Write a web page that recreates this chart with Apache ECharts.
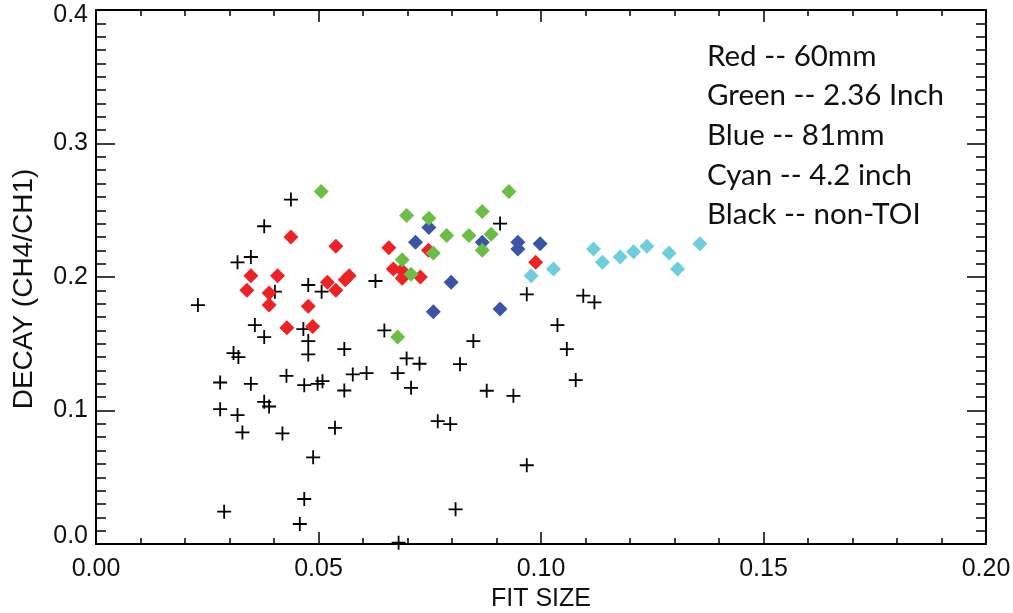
<!DOCTYPE html>
<html>
<head>
<meta charset="utf-8">
<script src="https://cdn.jsdelivr.net/npm/echarts@6/dist/echarts.min.js"></script>
<style>
  html, body { margin: 0; padding: 0; background: #fff; }
  #chart { width: 1013px; height: 613px; }
</style>
</head>
<body>
<div id="chart"></div>
<script>
// Fit size vs. decay ratio, one group per projectile type
const red60mm = [
  [0.0438, 0.230], [0.0348, 0.201], [0.0408, 0.201], [0.0339, 0.190],
  [0.0389, 0.188], [0.0389, 0.179], [0.0477, 0.178], [0.0429, 0.162],
  [0.0487, 0.163], [0.0539, 0.223], [0.0658, 0.222], [0.0747, 0.220],
  [0.0988, 0.211], [0.0668, 0.206], [0.0687, 0.205], [0.0688, 0.199],
  [0.0729, 0.200], [0.0569, 0.201], [0.0560, 0.198], [0.0520, 0.196],
  [0.0539, 0.190]
];
const green236in = [
  [0.0506, 0.264], [0.0928, 0.264], [0.0698, 0.246], [0.0748, 0.244],
  [0.0868, 0.249], [0.0788, 0.231], [0.0838, 0.231], [0.0888, 0.232],
  [0.0868, 0.220], [0.0758, 0.218], [0.0688, 0.213], [0.0708, 0.202],
  [0.0678, 0.155]
];
const blue81mm = [
  [0.0748, 0.237], [0.0718, 0.226], [0.0868, 0.226], [0.0948, 0.226],
  [0.0948, 0.221], [0.0998, 0.225], [0.0798, 0.196], [0.0758, 0.174],
  [0.0908, 0.176]
];
const cyan42in = [
  [0.0978, 0.201], [0.1028, 0.206], [0.1118, 0.221], [0.1138, 0.211],
  [0.1178, 0.215], [0.1208, 0.219], [0.1238, 0.223], [0.1288, 0.218],
  [0.1307, 0.206], [0.1357, 0.225]
];
const nonToi = [
  [0.0438, 0.258], [0.0378, 0.238], [0.0348, 0.215], [0.0318, 0.211],
  [0.0477, 0.194], [0.0402, 0.189], [0.0229, 0.179], [0.0357, 0.164],
  [0.0466, 0.161], [0.0378, 0.155], [0.0477, 0.152], [0.0309, 0.143],
  [0.0320, 0.140], [0.0477, 0.142], [0.0908, 0.240], [0.0507, 0.189],
  [0.0628, 0.197], [0.0968, 0.187], [0.0648, 0.160], [0.0558, 0.146],
  [0.0848, 0.152], [0.1095, 0.186], [0.1120, 0.181], [0.1037, 0.164],
  [0.1058, 0.146], [0.0698, 0.139], [0.0727, 0.135], [0.0678, 0.128],
  [0.0708, 0.117], [0.0428, 0.126], [0.0279, 0.121], [0.0348, 0.120],
  [0.0468, 0.119], [0.0498, 0.120], [0.0509, 0.122], [0.0577, 0.127],
  [0.0608, 0.128], [0.0558, 0.115], [0.0378, 0.1065], [0.0389, 0.103],
  [0.0279, 0.101], [0.0318, 0.0966], [0.0329, 0.0836], [0.0419, 0.0828],
  [0.0537, 0.087], [0.0488, 0.0649], [0.0468, 0.0337], [0.0458, 0.015],
  [0.0288, 0.0242], [0.0680, 0.001], [0.1078, 0.1228], [0.0818, 0.1347],
  [0.0878, 0.1148], [0.0938, 0.111], [0.0768, 0.092], [0.0796, 0.0898],
  [0.0968, 0.059], [0.0808, 0.026]
];

const legendLines = [
  'Red -- 60mm',
  'Green -- 2.36 Inch',
  'Blue -- 81mm',
  'Cyan -- 4.2 inch',
  'Black -- non-TOI'
];

const xRange = { min: 0, max: 0.2, interval: 0.05 };
const yRange = { min: 0, max: 0.4, interval: 0.1 };

const AXIS_FONT = '"Liberation Sans", Arial, Helvetica, sans-serif';
const PLUS = 'path://M-0.13,-1H0.13V-0.13H1V0.13H0.13V1H-0.13V0.13H-1V-0.13H-0.13Z';
const labelText = { color: '#111', fontSize: 25, fontFamily: AXIS_FONT };

function xAxisDef(pos, showLabel) {
  return {
    type: 'value', position: pos, ...xRange,
    axisLine: { show: true, onZero: false, lineStyle: { color: '#000', width: 2 } },
    axisTick: { show: true, inside: true, length: 12, lineStyle: { color: '#000', width: 1.5 } },
    minorTick: { show: true, splitNumber: 5, length: 6, lineStyle: { color: '#000', width: 1.5 } },
    splitLine: { show: false },
    axisLabel: { show: showLabel, margin: 13, ...labelText, formatter: v => v.toFixed(2) },
    name: showLabel ? 'FIT SIZE' : '',
    nameLocation: 'middle', nameGap: 42,
    nameTextStyle: { ...labelText }
  };
}
function yAxisDef(pos, showLabel) {
  return {
    type: 'value', position: pos, ...yRange,
    axisLine: { show: true, onZero: false, lineStyle: { color: '#000', width: 2 } },
    axisTick: { show: true, inside: true, length: 19, lineStyle: { color: '#000', width: 1.5 } },
    minorTick: { show: true, splitNumber: 10, length: 10, lineStyle: { color: '#000', width: 1.5 } },
    splitLine: { show: false },
    axisLabel: {
      show: showLabel, margin: 8, ...labelText,
      // end labels are nudged inward so they stay inside the frame
      formatter: v => {
        const s = v.toFixed(1);
        if (v <= yRange.min) return '{lo|' + s + '}';
        if (v >= yRange.max) return '{hi|' + s + '}';
        return s;
      },
      rich: {
        lo: { ...labelText, padding: [0, 0, 16, 0] },
        hi: { ...labelText, padding: [10, 0, 0, 0] }
      }
    },
    name: showLabel ? 'DECAY (CH4/CH1)' : '',
    nameLocation: 'middle', nameGap: 58, nameRotate: 90,
    nameTextStyle: { color: '#111', fontSize: 28, fontFamily: AXIS_FONT, padding: [0, 24, 0, 0] }
  };
}

function diamonds(data, color) {
  return {
    type: 'scatter', data, symbol: 'diamond', symbolSize: 15, clip: false,
    itemStyle: { color, opacity: 1 }, z: 3
  };
}

const chart = echarts.init(document.getElementById('chart'), null, { renderer: 'canvas' });
chart.setOption({
  backgroundColor: '#fff',
  animation: false,
  grid: { left: 96, right: 27, top: 10, bottom: 69, containLabel: false, outerBoundsMode: 'none' },
  xAxis: [xAxisDef('bottom', true), xAxisDef('top', false)],
  yAxis: [yAxisDef('left', true), yAxisDef('right', false)],
  graphic: legendLines.map((t, i) => ({
    type: 'text', left: 707, top: 41 + i * 39.7,
    style: { text: t, fill: '#111', font: '29.5px Lato, "Open Sans", sans-serif' }
  })),
  series: [
    {
      type: 'scatter', data: nonToi, symbol: PLUS, symbolSize: 14, clip: false,
      itemStyle: { color: '#000', opacity: 1 }, z: 2
    },
    diamonds(red60mm, '#EC2227'),
    diamonds(blue81mm, '#3B54A5'),
    diamonds(green236in, '#6CBD45'),
    diamonds(cyan42in, '#6ECEDD')
  ]
});
</script>
</body>
</html>
